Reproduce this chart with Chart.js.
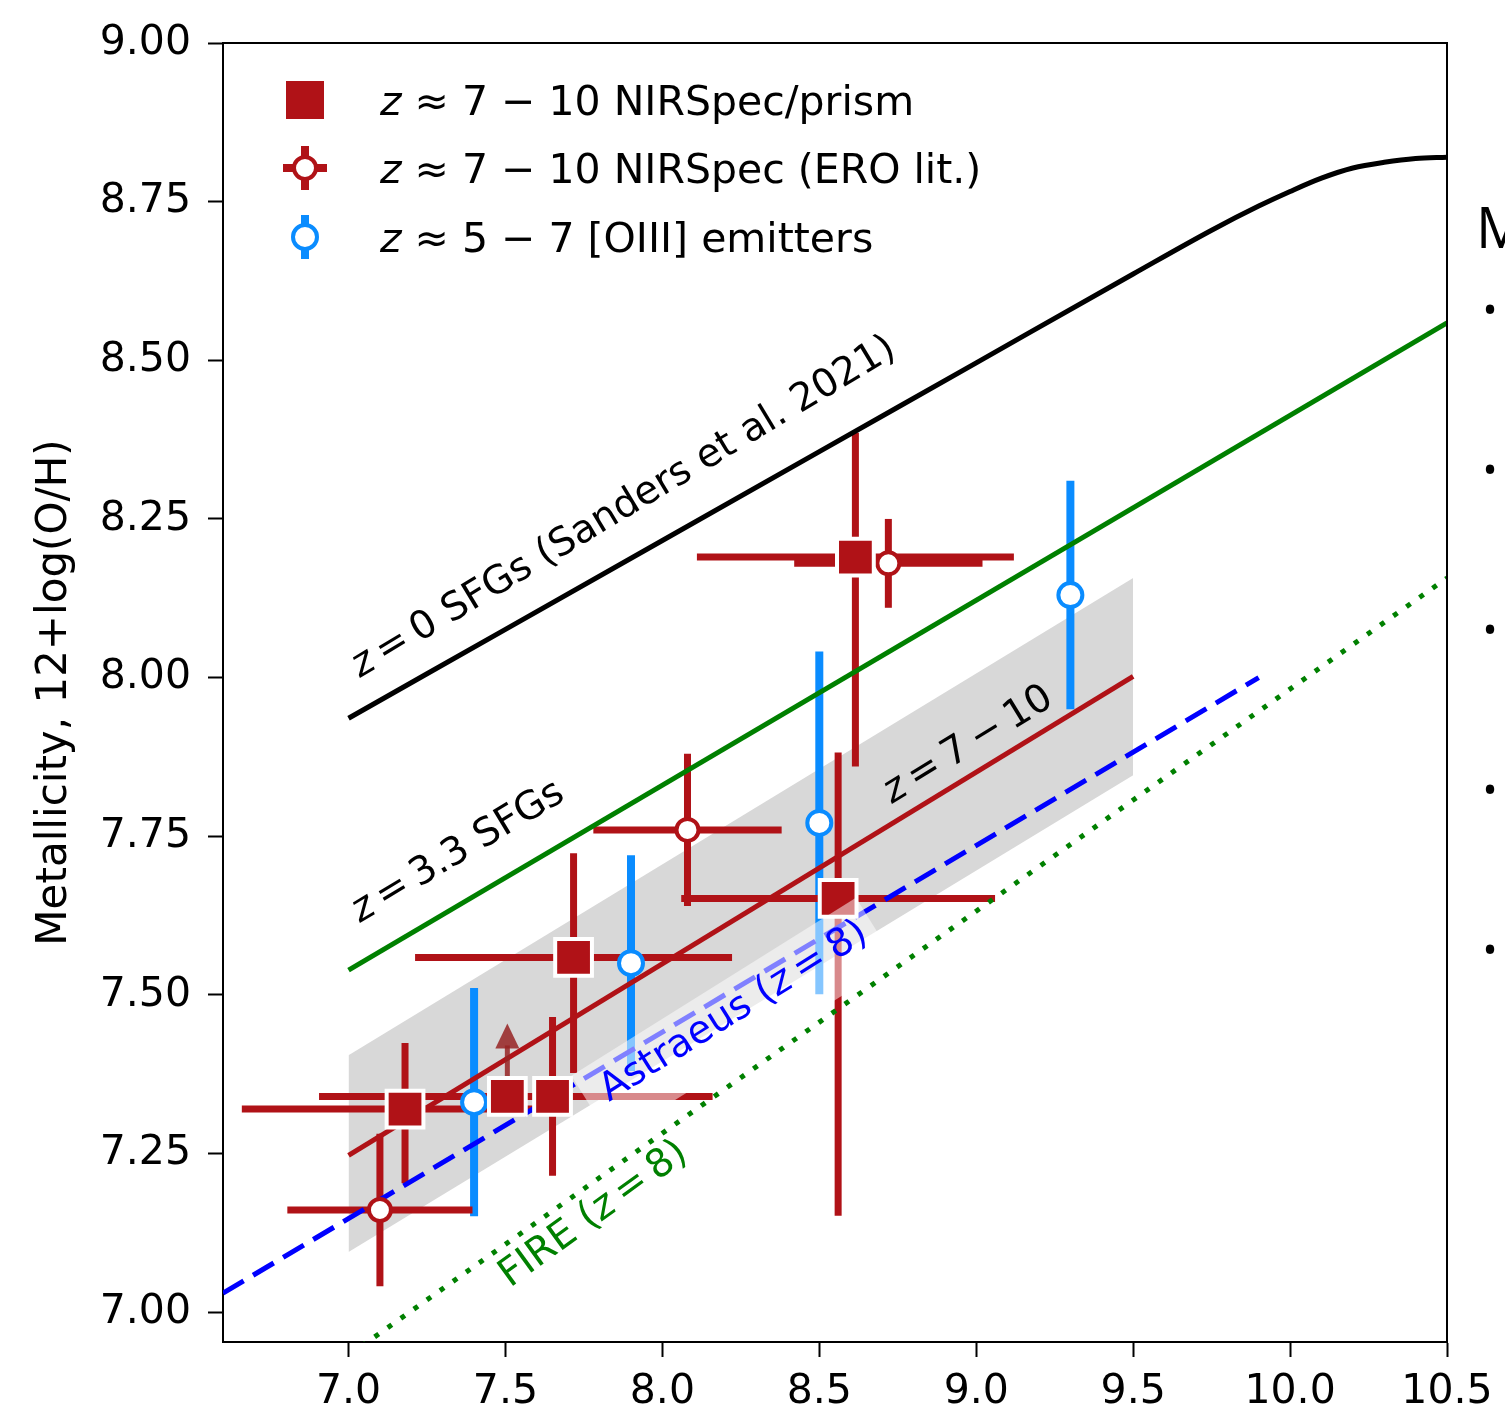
<!DOCTYPE html>
<html>
<head>
<meta charset="utf-8">
<script src="https://cdn.jsdelivr.net/npm/chart.js@4.4.6/dist/chart.umd.js"></script>
<style>
  html, body { margin: 0; padding: 0; background: #fff; overflow: hidden; }
  #wrap { position: relative; width: 1505px; height: 1416px; }
</style>
</head>
<body>
<div id="wrap"><canvas id="mzr" width="1505" height="1416"></canvas></div>
<script>
// axis ticks
const xTicks = [7.0, 7.5, 8.0, 8.5, 9.0, 9.5, 10.0, 10.5];
const yTicks = [7.0, 7.25, 7.5, 7.75, 8.0, 8.25, 8.5, 8.75, 9.0];

// z ~ 7-10 NIRSpec/prism (squares)
const sqMass = [7.18, 7.506, 7.65, 7.717, 8.615, 8.56];
const sqMetal = [7.32, 7.34, 7.34, 7.559, 8.19, 7.652];
const sqMassErr = [0.52, 0.60, 0.51, 0.505, 0.505, 0.50];
const sqMetalErrLo = [0.117, 0, 0.125, 0.182, 0.33, 0.50];
const sqMetalErrHi = [0.104, 0, 0.125, 0.164, 0.196, 0.23];
const sqLowerLimit = [false, true, false, false, false, false];
const limitArrow = 0.115;

// z ~ 7-10 NIRSpec ERO literature (open red circles)
const eroMass = [7.10, 8.08, 8.72];
const eroMetal = [7.161, 7.76, 8.18];
const eroMassErr = [0.295, 0.30, 0.30];
const eroMetalErr = [0.12, 0.12, 0.07];

// z ~ 5-7 [OIII] emitters (open blue circles)
const o3Mass = [7.40, 7.90, 8.50, 9.30];
const o3Metal = [7.331, 7.55, 7.771, 8.13];
const o3MetalErr = [0.18, 0.17, 0.27, 0.18];

// relations
const z0Mass = [7.0, 7.5, 8.0, 8.5, 9.0, 9.5, 9.75, 9.9, 10.0, 10.1, 10.2, 10.3, 10.4, 10.5];
const z0Metal = [7.936, 8.076, 8.216, 8.356, 8.496, 8.636, 8.705, 8.743, 8.766, 8.787, 8.803, 8.812, 8.818, 8.820];
const z33Mass = [7.0, 10.5];
const z33Metal = [7.539, 8.559];
const fitMass = [7.0, 9.5];
const fitMetal = [7.247, 8.002];
const fitBandHi = [7.405, 8.157];
const fitBandLo = [7.095, 7.846];
const astraeusMass = [6.6, 9.9];
const astraeusMetal = [7.030, 8.0];
const fireMass = [7.0, 10.5];
const fireMetal = [6.932, 8.157];

const RED = '#b01217';
const BLUE = '#0a8cff';
const FONT = '"DejaVu Sans", sans-serif';
const NOTE = 39;

Chart.defaults.font.family = FONT;
Chart.defaults.color = '#000';

const toXY = (xs, ys) => xs.map((v, i) => ({ x: v, y: ys[i] }));

const lineSet = (label, xs, ys, color, width, order, extra = {}) => ({
  type: 'line',
  label,
  data: toXY(xs, ys),
  borderColor: color,
  borderWidth: width,
  pointRadius: 0,
  fill: false,
  order,
  ...extra
});

// draws text with an italic "z" in it, rotated about its baseline origin
const mathText = (ctx, parts, x0, y0, angle, size, color) => {
  ctx.save();
  ctx.translate(x0, y0);
  ctx.rotate(-angle * Math.PI / 180);
  ctx.fillStyle = color;
  ctx.textAlign = 'left';
  ctx.textBaseline = 'alphabetic';
  let u = 0;
  parts.forEach(([text, italic]) => {
    ctx.font = `${italic ? 'italic ' : ''}${size}px ${FONT}`;
    ctx.fillText(text, u, 0);
    u += ctx.measureText(text).width;
  });
  ctx.restore();
  return u;
};

const measureParts = (ctx, parts, size) => parts.reduce((w, [text, italic]) => {
  ctx.font = `${italic ? 'italic ' : ''}${size}px ${FONT}`;
  return w + ctx.measureText(text).width;
}, 0);

const seg = (ctx, x0, y0, x1, y1, color, width) => {
  ctx.strokeStyle = color;
  ctx.lineWidth = width;
  ctx.beginPath();
  ctx.moveTo(x0, y0);
  ctx.lineTo(x1, y1);
  ctx.stroke();
};

const errorBars = {
  id: 'errorBars',
  beforeDatasetDraw(chart, args) {
    const ds = chart.data.datasets[args.index];
    const { ctx, chartArea: a, scales: { x, y } } = chart;
    if (ds.errorsBefore) {
      ctx.save();
      ctx.beginPath();
      ctx.rect(a.left, a.top, a.width, a.height);
      ctx.clip();
      ctx.lineCap = 'butt';
      o3Mass.forEach((m, i) => {
        const px = x.getPixelForValue(m);
        seg(ctx, px, y.getPixelForValue(o3Metal[i] - o3MetalErr[i]), px, y.getPixelForValue(o3Metal[i] + o3MetalErr[i]), BLUE, 8);
      });
      eroMass.forEach((m, i) => {
        const px = x.getPixelForValue(m);
        const py = y.getPixelForValue(eroMetal[i]);
        seg(ctx, x.getPixelForValue(m - eroMassErr[i]), py, x.getPixelForValue(m + eroMassErr[i]), py, RED, 7);
        seg(ctx, px, y.getPixelForValue(eroMetal[i] - eroMetalErr[i]), px, y.getPixelForValue(eroMetal[i] + eroMetalErr[i]), RED, 7);
      });
      sqMass.forEach((m, i) => {
        const px = x.getPixelForValue(m);
        const py = y.getPixelForValue(sqMetal[i]);
        seg(ctx, x.getPixelForValue(m - sqMassErr[i]), py, x.getPixelForValue(m + sqMassErr[i]), py, RED, 7);
        if (!sqLowerLimit[i]) {
          seg(ctx, px, y.getPixelForValue(sqMetal[i] - sqMetalErrLo[i]), px, y.getPixelForValue(sqMetal[i] + sqMetalErrHi[i]), RED, 7);
        }
      });
      ctx.restore();
    }
    if (ds.arrowsBefore) {
      ctx.save();
      sqMass.forEach((m, i) => {
        if (!sqLowerLimit[i]) return;
        const px = x.getPixelForValue(m);
        const py = y.getPixelForValue(sqMetal[i]);
        const tip = y.getPixelForValue(sqMetal[i] + limitArrow);
        ctx.fillStyle = 'rgba(150,35,35,0.85)';
        ctx.fillRect(px - 2.5, tip + 22, 5, py - tip - 22);
        ctx.beginPath();
        ctx.moveTo(px, tip);
        ctx.lineTo(px - 12, tip + 25);
        ctx.lineTo(px + 12, tip + 25);
        ctx.closePath();
        ctx.fill();
      });
      ctx.restore();
    }
  }
};

const labels = {
  id: 'labels',
  afterDatasetsDraw(chart) {
    const { ctx, chartArea: a } = chart;

    // Astraeus label sits on a half transparent white box
    const astParts = [['Astraeus (', false], ['z', true], ['\u2009=\u20098)', false]];
    const w = measureParts(ctx, astParts, NOTE);
    ctx.save();
    ctx.beginPath();
    ctx.rect(a.left, a.top, a.width, a.height);
    ctx.clip();
    ctx.translate(609, 1102);
    ctx.rotate(-32 * Math.PI / 180);
    ctx.fillStyle = 'rgba(255,255,255,0.5)';
    ctx.fillRect(-18, -NOTE * 0.93 - 6, w + 28, NOTE * 1.17 + 30);
    ctx.restore();
    mathText(ctx, astParts, 609, 1102, 32, NOTE, '#0000ff');

    mathText(ctx, [['z', true], ['\u2009=\u20090 SFGs (Sanders et al. 2021)', false]], 360, 678, 31, NOTE, '#000');
    mathText(ctx, [['z', true], ['\u2009=\u20093.3 SFGs', false]], 360, 923, 31, NOTE, '#000');
    mathText(ctx, [['z', true], ['\u2009=\u20097\u2009\u2212\u200910', false]], 892, 804, 31.5, NOTE, '#000');
    mathText(ctx, [['FIRE (', false], ['z', true], ['\u2009=\u20098)', false]], 510, 1288, 36, NOTE, '#008000');

    // top and right spines
    ctx.save();
    ctx.strokeStyle = '#000';
    ctx.lineWidth = 2;
    ctx.beginPath();
    ctx.moveTo(a.left, a.top);
    ctx.lineTo(a.right, a.top);
    ctx.lineTo(a.right, a.bottom);
    ctx.stroke();
    ctx.restore();
  },
  afterDraw(chart) {
    const { ctx } = chart;
    const lx = 305;
    const rows = [100, 168, 237];
    ctx.save();
    // square
    ctx.fillStyle = RED;
    ctx.fillRect(lx - 19, rows[0] - 19, 38, 38);
    // ERO circle with cross
    ctx.lineCap = 'butt';
    seg(ctx, lx - 22, rows[1], lx + 22, rows[1], RED, 8);
    seg(ctx, lx, rows[1] - 22, lx, rows[1] + 22, RED, 8);
    ctx.beginPath();
    ctx.arc(lx, rows[1], 11, 0, Math.PI * 2);
    ctx.fillStyle = '#fff';
    ctx.fill();
    ctx.lineWidth = 4;
    ctx.strokeStyle = RED;
    ctx.stroke();
    // OIII circle with vertical bar
    seg(ctx, lx, rows[2] - 22, lx, rows[2] + 22, BLUE, 8);
    ctx.beginPath();
    ctx.arc(lx, rows[2], 12, 0, Math.PI * 2);
    ctx.fillStyle = '#fff';
    ctx.fill();
    ctx.lineWidth = 4;
    ctx.strokeStyle = BLUE;
    ctx.stroke();
    ctx.restore();

    const legendText = [
      [['z', true], [' \u2248 7 \u2212 10 NIRSpec/prism', false]],
      [['z', true], [' \u2248 7 \u2212 10 NIRSpec (ERO lit.)', false]],
      [['z', true], [' \u2248 5 \u2212 7 [OIII] emitters', false]]
    ];
    legendText.forEach((parts, i) => mathText(ctx, parts, 380, rows[i] + 15, 0, 41, '#000'));

    // clipped slide text on the right
    ctx.save();
    ctx.fillStyle = '#000';
    ctx.font = '56px "Open Sans", sans-serif';
    ctx.textAlign = 'left';
    ctx.textBaseline = 'alphabetic';
    ctx.fillText('M', 1476, 248);
    ctx.font = '40px "Open Sans", sans-serif';
    ctx.textAlign = 'center';
    ctx.textBaseline = 'middle';
    [313, 473, 633, 793, 953].forEach((by) => ctx.fillText('\u2022', 1490, by));
    ctx.restore();
  }
};

new Chart(document.getElementById('mzr'), {
  type: 'scatter',
  data: {
    datasets: [
      lineSet('band hi', fitMass, fitBandHi, 'rgba(0,0,0,0)', 0, 20, { fill: '+1', backgroundColor: '#d8d8d8' }),
      lineSet('band lo', fitMass, fitBandLo, 'rgba(0,0,0,0)', 0, 19),
      lineSet('z=0', z0Mass, z0Metal, '#000', 5, 8, { cubicInterpolationMode: 'monotone', errorsBefore: true }),
      lineSet('z=3.3', z33Mass, z33Metal, '#008000', 5, 7),
      lineSet('z=7-10 fit', fitMass, fitMetal, RED, 5, 6),
      lineSet('Astraeus', astraeusMass, astraeusMetal, '#0000ff', 5, 5, { borderDash: [24, 11] }),
      lineSet('FIRE', fireMass, fireMetal, '#008000', 5, 4, { borderDash: [5, 11] }),
      {
        label: 'z~5-7 [OIII] emitters',
        data: toXY(o3Mass, o3Metal),
        pointStyle: 'circle',
        pointRadius: 12,
        pointBackgroundColor: '#fff',
        pointBorderColor: BLUE,
        pointBorderWidth: 4,
        order: 3,
        arrowsBefore: true
      },
      {
        label: 'z~7-10 NIRSpec (ERO lit.)',
        data: toXY(eroMass, eroMetal),
        pointStyle: 'circle',
        pointRadius: 11,
        pointBackgroundColor: '#fff',
        pointBorderColor: RED,
        pointBorderWidth: 4,
        order: 2
      },
      {
        label: 'z~7-10 NIRSpec/prism',
        data: toXY(sqMass, sqMetal),
        pointStyle: 'rect',
        pointRadius: 26,
        pointBackgroundColor: RED,
        pointBorderColor: '#fff',
        pointBorderWidth: 4,
        order: 1
      }
    ]
  },
  options: {
    responsive: false,
    animation: false,
    devicePixelRatio: 1,
    layout: { padding: { left: 0, right: 58, top: 43, bottom: 0 } },
    plugins: { legend: { display: false }, tooltip: { enabled: false } },
    scales: {
      x: {
        type: 'linear',
        min: 6.6,
        max: 10.5,
        afterBuildTicks: (s) => { s.ticks = xTicks.map((v) => ({ value: v })); },
        afterFit: (s) => { s.height = 74; },
        ticks: { font: { size: 41 }, color: '#000', padding: 11, maxRotation: 0, autoSkip: false, callback: (v) => Number(v).toFixed(1) },
        grid: { drawOnChartArea: false, drawTicks: true, tickLength: 15, tickWidth: 2, tickColor: '#000' },
        border: { display: true, color: '#000', width: 2 }
      },
      y: {
        type: 'linear',
        min: 6.953,
        max: 9.0,
        afterBuildTicks: (s) => { s.ticks = yTicks.map((v) => ({ value: v })); },
        afterFit: (s) => { s.width = 223; },
        ticks: { font: { size: 41 }, color: '#000', padding: 17, autoSkip: false, callback: (v) => Number(v).toFixed(2) },
        grid: { drawOnChartArea: false, drawTicks: true, tickLength: 15, tickWidth: 2, tickColor: '#000' },
        border: { display: true, color: '#000', width: 2 },
        title: { display: true, text: 'Metallicity, 12+log(O/H)', font: { size: 42 }, color: '#000', padding: { top: 30, bottom: 0 } }
      }
    }
  },
  plugins: [errorBars, labels]
});
</script>
</body>
</html>
